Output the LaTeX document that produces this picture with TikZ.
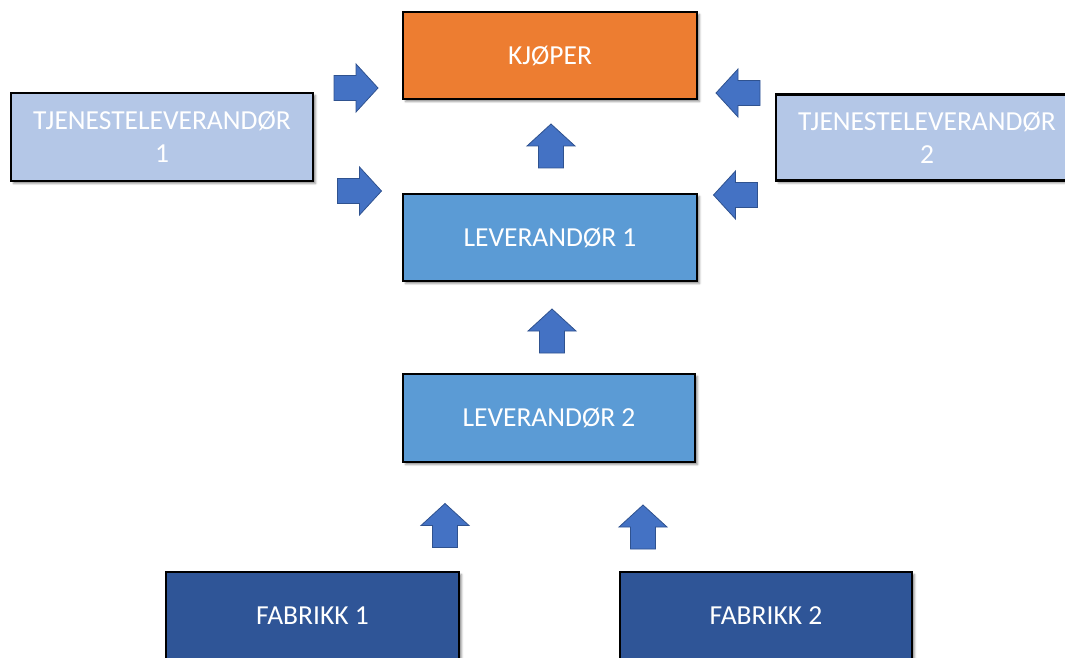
\documentclass[tikz,border=0pt]{standalone}
\usepackage{fontspec}
\setmainfont{Carlito}
\usetikzlibrary{shadows.blur}
\definecolor{buyer}{HTML}{ED7D31}
\definecolor{supplier}{HTML}{5B9BD5}
\definecolor{service}{HTML}{B4C7E7}
\definecolor{factory}{HTML}{2F5597}
\definecolor{flowfill}{HTML}{4472C4}
\definecolor{flowline}{HTML}{2F528F}
\tikzset{
  x=1pt, y=1pt,
  box/.style={draw=black, line width=2.8pt, rectangle, text=white, align=center,
    font=\fontsize{27.5}{33}\selectfont, inner sep=0pt,
    blur shadow={shadow xshift=2.5pt, shadow yshift=-2.5pt, shadow blur radius=2pt, shadow opacity=45}},
  flow/.style={fill=flowfill, draw=flowline, line width=0.8pt, line join=miter},
  pics/blockarrow/.style={code={
    \draw[flow] (-22,-12.5) -- (0,-12.5) -- (0,-24) -- (22,0) -- (0,24)
      -- (0,12.5) -- (-22,12.5) -- cycle;
  }}
}
\begin{document}
\begin{tikzpicture}
\useasboundingbox (0,0) rectangle (1065,657);
\clip (0,0) rectangle (1065,657);

% parties in the supply chain
\node[box, fill=buyer, minimum width=294, minimum height=87] (buyer) at (550,601.5) {KJØPER};
\node[box, fill=supplier, minimum width=294, minimum height=87] (sup1) at (550,419.5) {LEVERANDØR 1};
\node[box, fill=supplier, minimum width=292, minimum height=88] (sup2) at (549,239) {LEVERANDØR 2};
\node[box, fill=service, minimum width=302, minimum height=88] (srv1) at (162,520) {TJENESTELEVERANDØR\\1};
\node[box, fill=service, minimum width=302, minimum height=86] (srv2) at (927,519.5) {TJENESTELEVERANDØR\\2};
\node[box, fill=factory, minimum width=293, minimum height=88] (fab1) at (312.5,41) {FABRIKK 1};
\node[box, fill=factory, minimum width=292, minimum height=88] (fab2) at (766,41) {FABRIKK 2};

% flow arrows between the parties
\pic[rotate=90] (upA) at (551,511) {blockarrow};
\pic[rotate=90] (upB) at (552,326) {blockarrow};
\pic[rotate=90] (upC) at (445,131.5) {blockarrow};
\pic[rotate=90] (upD) at (643,130) {blockarrow};
\pic (rightA) at (356,569) {blockarrow};
\pic (rightB) at (359.5,466) {blockarrow};
\pic[rotate=180] (leftA) at (738,564) {blockarrow};
\pic[rotate=180] (leftB) at (735.5,462) {blockarrow};
\end{tikzpicture}
\end{document}
